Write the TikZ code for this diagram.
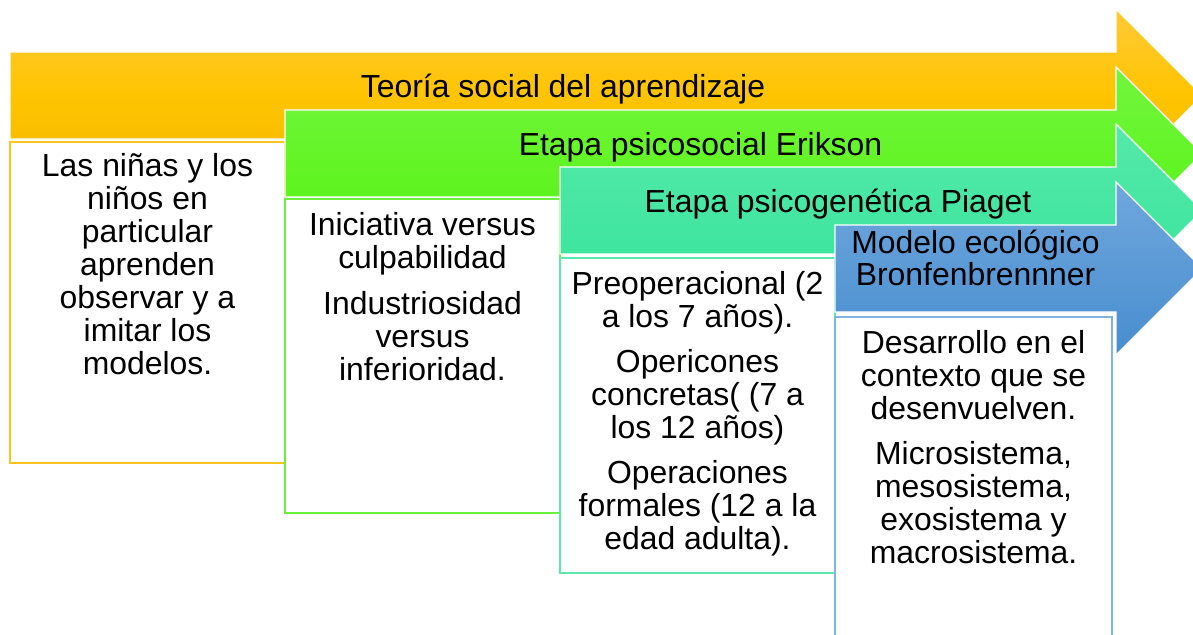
\documentclass[tikz,border=0pt]{standalone}
\usepackage{fontspec}
\setmainfont{Liberation Sans}
\usepackage{tikz}
\usepackage{xcolor}
\definecolor{orgtop}{HTML}{FFCA38}
\definecolor{orgmid}{HTML}{FFC400}
\definecolor{orgbot}{HTML}{F2B700}
\definecolor{grntop}{HTML}{72F53E}
\definecolor{grnbot}{HTML}{57F414}
\definecolor{teltop}{HTML}{56E8AA}
\definecolor{telbot}{HTML}{36E59A}
\definecolor{blutop}{HTML}{70A7DD}
\definecolor{blubot}{HTML}{478DCF}
\definecolor{orgline}{HTML}{FFC31E}
\definecolor{grnline}{HTML}{6CF03A}
\definecolor{telline}{HTML}{5CE8AC}
\definecolor{bluline}{HTML}{80B2E2}

\begin{document}
\begin{tikzpicture}[x=1pt, y=-1pt,
		stagearrow/.style={draw=white, line width=1.2pt},
		stagebox/.style={fill=white, line width=1.2pt},
		arrowtxt/.style={anchor=base, inner sep=0pt, font=\fontsize{31.9}{33}\selectfont},
		boxtxt/.style={anchor=north, align=center, inner sep=0pt, font=\fontsize{31.9}{33}\selectfont}]
			\useasboundingbox (0,0) rectangle (1193,634);
			\clip (0,0) rectangle (1193,634);

			\draw[stagearrow, top color=orgtop, bottom color=orgbot, middle color=orgmid] (10,52) -- (1116,52) -- (1116,9) -- (1202.5,95.5) -- (1116,182) -- (1116,139) -- (10,139) -- cycle;
			\node[arrowtxt] (teoria) at (563,97) {Teoría social del aprendizaje};
			\draw[stagebox, draw=orgline] (10,142) rectangle (285,463);
			\node[boxtxt] (txtsocial) at (147.5,153) {Las niñas y los\\niños en\\particular\\aprenden\\observar y a\\imitar los\\modelos.};

			\draw[stagearrow, top color=grntop, bottom color=grnbot] (285,110) -- (1116,110) -- (1116,67) -- (1202.5,153.5) -- (1116,240) -- (1116,197) -- (285,197) -- cycle;
			\node[arrowtxt] (erikson) at (700.5,155) {Etapa psicosocial Erikson};
			\draw[stagebox, draw=grnline] (285,199) rectangle (560,513);
			\node[boxtxt] (txterikson) at (422.5,212) {Iniciativa versus\\culpabilidad\\[13pt]Industriosidad\\versus\\inferioridad.};

			\draw[stagearrow, top color=teltop, bottom color=telbot] (560,167) -- (1116,167) -- (1116,124) -- (1202.5,210.5) -- (1116,297) -- (1116,254) -- (560,254) -- cycle;
			\node[arrowtxt] (piaget) at (838,212) {Etapa psicogenética Piaget};
			\draw[stagebox, draw=telline] (560,258) rectangle (835,573);
			\node[boxtxt] (txtpiaget) at (697.5,271) {Preoperacional (2\\a los 7 años).\\[12pt]Opericones\\concretas( (7 a\\los 12 años)\\[12pt]Operaciones\\formales (12 a la\\edad adulta).};

			\draw[stagearrow, top color=blutop, bottom color=blubot] (835,225) -- (1116,225) -- (1116,182) -- (1202.5,268.5) -- (1116,355) -- (1116,312) -- (835,312) -- cycle;
			\node[boxtxt, font=\fontsize{31.9}{32}\selectfont] (bronf) at (975.5,230) {Modelo ecológico\\Bronfenbrennner};
			\draw[stagebox, draw=bluline] (835,317) rectangle (1112,660);
			\node[boxtxt] (txtbronf) at (973.5,330) {Desarrollo en el\\contexto que se\\desenvuelven.\\[12pt]Microsistema,\\mesosistema,\\exosistema y\\macrosistema.};
		\end{tikzpicture}
\end{document}
